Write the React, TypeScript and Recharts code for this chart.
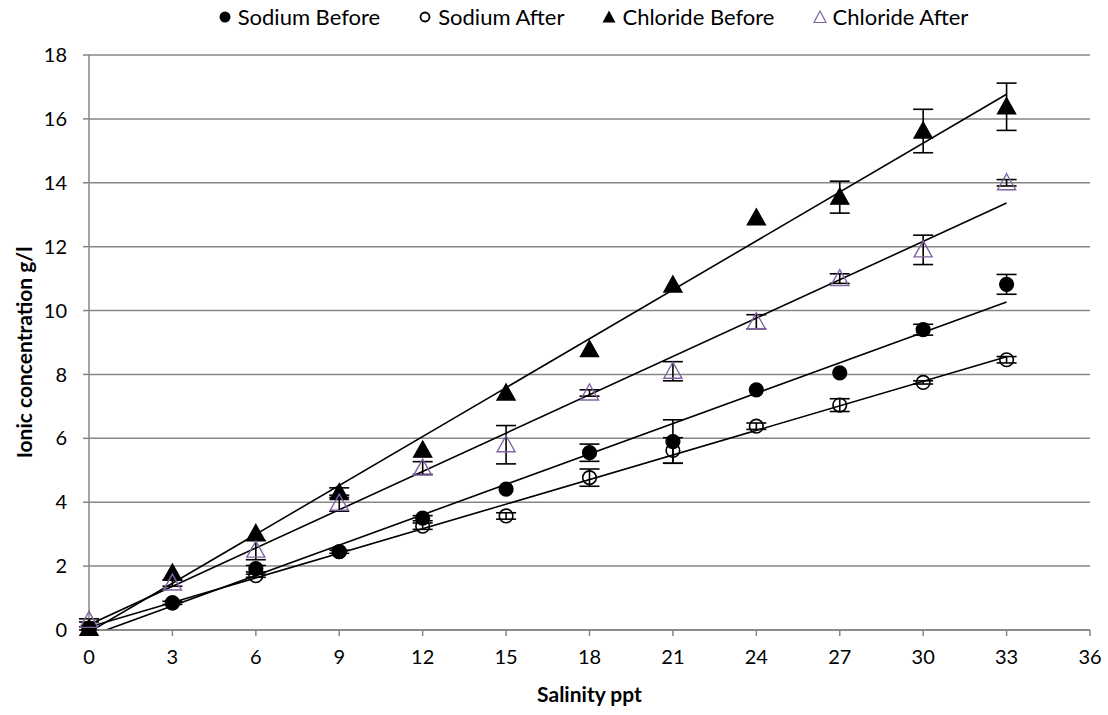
import {
  CartesianGrid,
  ErrorBar,
  Label,
  ReferenceLine,
  Scatter,
  ScatterChart,
  XAxis,
  YAxis,
} from 'recharts'

const salinity = [0, 3, 6, 9, 12, 15, 18, 21, 24, 27, 30, 33]

const sodiumBefore = [0.05, 0.85, 1.92, 2.45, 3.5, 4.41, 5.55, 5.9, 7.52, 8.05, 9.4, 10.82]
const sodiumBeforeErr = [0, 0, 0.1, 0, 0.08, 0, 0.27, 0.68, 0, 0, 0.17, 0.31]
const sodiumAfter = [0.05, 0.85, 1.7, 2.45, 3.25, 3.57, 4.77, 5.62, 6.38, 7.04, 7.75, 8.46]
const sodiumAfterErr = [0.05, 0.05, 0.05, 0.05, 0.1, 0.1, 0.27, 0.4, 0.1, 0.2, 0.05, 0.1]
const chlorideBefore = [0.05, 1.78, 3.02, 4.3, 5.63, 7.42, 8.78, 10.8, 12.9, 13.55, 15.62, 16.38]
const chlorideBeforeErr = [0, 0, 0, 0.15, 0, 0, 0, 0, 0, 0.5, 0.68, 0.74]
const chlorideAfter = [0.3, 1.47, 2.5, 3.97, 5.07, 5.8, 7.42, 8.1, 9.65, 11.0, 11.9, 14.0]
const chlorideAfterErr = [0.05, 0.1, 0.3, 0.25, 0.2, 0.6, 0.1, 0.3, 0.22, 0.15, 0.46, 0.1]

const xTicks = [0, 3, 6, 9, 12, 15, 18, 21, 24, 27, 30, 33, 36]
const yTicks = [0, 2, 4, 6, 8, 10, 12, 14, 16, 18]

const FONT = 'Lato, "Open Sans", sans-serif'
const GRID = '#868686'
const PURPLE = '#8064a2'

type Row = { x: number; y: number; e: number }

const rows = (ys: number[], errs: number[]): Row[] =>
  salinity.map((x, i) => ({ x, y: ys[i], e: errs[i] }))

// least-squares trendline, like excel's linear trendline
const fit = (ys: number[]) => {
  const n = salinity.length
  const mx = salinity.reduce((a, b) => a + b, 0) / n
  const my = ys.reduce((a, b) => a + b, 0) / n
  let sxy = 0
  let sxx = 0
  salinity.forEach((x, i) => {
    sxy += (x - mx) * (ys[i] - my)
    sxx += (x - mx) * (x - mx)
  })
  const b = sxy / sxx
  const a = my - b * mx
  const x0 = salinity[0]
  const x1 = salinity[n - 1]
  return [
    { x: x0, y: a + b * x0 },
    { x: x1, y: a + b * x1 },
  ]
}

const circle = (fill: string) => (p: any) =>
  <circle cx={p.cx} cy={p.cy} r={6.8} fill={fill} stroke="#000" strokeWidth={1.6} />

const triangle = (fill: string, stroke: string) => (p: any) => {
  const { cx, cy } = p
  return (
    <path
      d={`M${cx},${cy - 9} L${cx + 9},${cy + 7} L${cx - 9},${cy + 7} Z`}
      fill={fill}
      stroke={stroke}
      strokeWidth={1.4}
    />
  )
}

const series = [
  { name: 'Sodium Before', ys: sodiumBefore, errs: sodiumBeforeErr, shape: circle('#000') },
  { name: 'Sodium After', ys: sodiumAfter, errs: sodiumAfterErr, shape: circle('none') },
  { name: 'Chloride Before', ys: chlorideBefore, errs: chlorideBeforeErr, shape: triangle('#000', '#000') },
  { name: 'Chloride After', ys: chlorideAfter, errs: chlorideAfterErr, shape: triangle('none', PURPLE) },
]

const legendIcons = [
  <circle cx={7} cy={9} r={5.5} fill="#000" />,
  <circle cx={7} cy={9} r={4.5} fill="none" stroke="#000" strokeWidth={1.8} />,
  <path d="M7,2.5 L13.5,14.5 L0.5,14.5 Z" fill="#000" />,
  <path d="M7,3 L13,14.5 L1,14.5 Z" fill="none" stroke={PURPLE} strokeWidth={1.2} />,
]

export default function App() {
  return (
    <div style={{ position: 'relative', width: 1108, height: 715, fontFamily: FONT }}>
      <style>{'body{margin:0}'}</style>
      <div
        style={{
          position: 'absolute',
          top: 2,
          left: 0,
          width: 1108,
          display: 'flex',
          justifyContent: 'center',
          paddingLeft: 78,
          boxSizing: 'border-box',
          gap: 38,
          fontSize: 22,
          lineHeight: '30px',
          color: '#000',
        }}
      >
        {series.map((s, i) => (
          <span key={s.name} style={{ display: 'flex', alignItems: 'center' }}>
            <svg width={14} height={18} style={{ marginRight: 6 }}>
              {legendIcons[i]}
            </svg>
            {s.name}
          </span>
        ))}
      </div>
      <ScatterChart
        width={1108}
        height={715}
        margin={{ top: 55, right: 18, bottom: 45, left: 29 }}
      >
        <CartesianGrid horizontal vertical={false} stroke={GRID} strokeWidth={1.5} />
        <XAxis
          type="number"
          dataKey="x"
          domain={[0, 36]}
          ticks={xTicks}
          interval={0}
          height={40}
          stroke={GRID}
          strokeWidth={1.5}
          tickSize={6}
          tickMargin={14}
          tick={{ fontSize: 20, fill: '#000', fontFamily: FONT }}
        >
          <Label
            content={({ viewBox }: any) => (
              <text
                x={viewBox.x + viewBox.width / 2}
                y={viewBox.y + 72}
                textAnchor="middle"
                fontWeight="bold"
                fontSize={21}
                fontFamily={FONT}
              >
                Salinity ppt
              </text>
            )}
          />
        </XAxis>
        <YAxis
          type="number"
          dataKey="y"
          domain={[0, 18]}
          ticks={yTicks}
          interval={0}
          width={60}
          stroke={GRID}
          strokeWidth={1.5}
          tickSize={6}
          tickMargin={16}
          tick={{ fontSize: 20, fill: '#000', fontFamily: FONT }}
        >
          <Label
            content={({ viewBox }: any) => {
              const cx = 23
              const cy = viewBox.y + viewBox.height / 2 + 10
              return (
                <text
                  x={cx}
                  y={cy}
                  transform={`rotate(-90 ${cx} ${cy})`}
                  textAnchor="middle"
                  dominantBaseline="central"
                  fontWeight="bold"
                  fontSize={21}
                  fontFamily={FONT}
                >
                  Ionic concentration g/l
                </text>
              )
            }}
          />
        </YAxis>
        {series.map((s) => (
          <ReferenceLine
            key={'trend-' + s.name}
            segment={fit(s.ys)}
            stroke="#000"
            strokeWidth={1.6}
            ifOverflow="hidden"
          />
        ))}
        {series.map((s) => (
          <Scatter
            key={s.name}
            name={s.name}
            data={rows(s.ys, s.errs)}
            shape={s.shape}
            isAnimationActive={false}
          >
            <ErrorBar dataKey="e" direction="y" width={10} stroke="#000" strokeWidth={1.6} />
          </Scatter>
        ))}
      </ScatterChart>
    </div>
  )
}
